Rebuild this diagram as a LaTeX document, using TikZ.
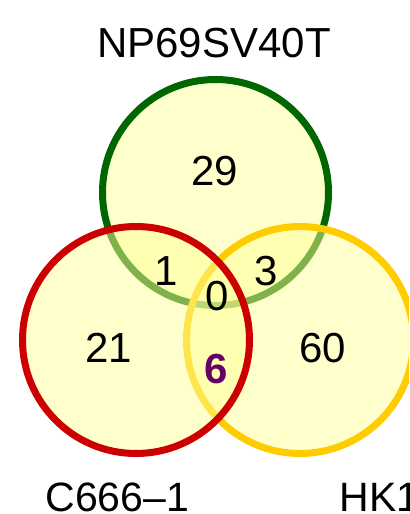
\documentclass[tikz,border=0pt]{standalone}
\usepackage{fontspec}
\setmainfont{Liberation Sans}
\definecolor{vfill}{RGB}{255,255,153}
\definecolor{vgreen}{RGB}{0,102,0}
\definecolor{vred}{RGB}{204,0,0}
\definecolor{vyellow}{RGB}{255,204,0}
\definecolor{vpurple}{RGB}{102,0,102}
\begin{document}
\begin{tikzpicture}[x=0.5pt,y=-0.5pt,
  setcircle/.style={line width=3.5pt, fill=vfill, fill opacity=0.5, draw opacity=1},
  lbl/.style={inner sep=0pt, anchor=base, font=\fontsize{21}{25}\selectfont},
  setname/.style={inner sep=0pt, anchor=base west, font=\fontsize{20.5}{25}\selectfont}]
\useasboundingbox (0,0) rectangle (409,514);
\fill[white] (0,0) rectangle (409,514);
\begin{scope}
\clip (0,0) rectangle (409,514);
\draw[setcircle, draw=vgreen] (215.5,192.5) circle[radius=113];
\draw[setcircle, draw=vyellow] (300,340) circle[radius=113.5];
\draw[setcircle, draw=vred] (136,340) circle[radius=113.5];
\node[inner sep=0pt, anchor=base, font=\fontsize{21}{25}\selectfont] (np) at (214,57) {NP69SV40T};
\node[setname] (c666) at (45,511) {C666–1};
\node[setname] (hk1) at (339,511) {HK1};
\end{scope}
\node[lbl] (n29) at (215,185) {29};
\node[lbl] (n1) at (166,285) {1};
\node[lbl] (n3) at (266,285) {3};
\node[lbl] (n0) at (217,310) {0};
\node[lbl, text=vpurple, font=\fontsize{21}{25}\selectfont\bfseries] (n6) at (216,383) {6};
\node[lbl] (n21) at (109,362) {21};
\node[lbl] (n60) at (323,362) {60};
\end{tikzpicture}
\end{document}
